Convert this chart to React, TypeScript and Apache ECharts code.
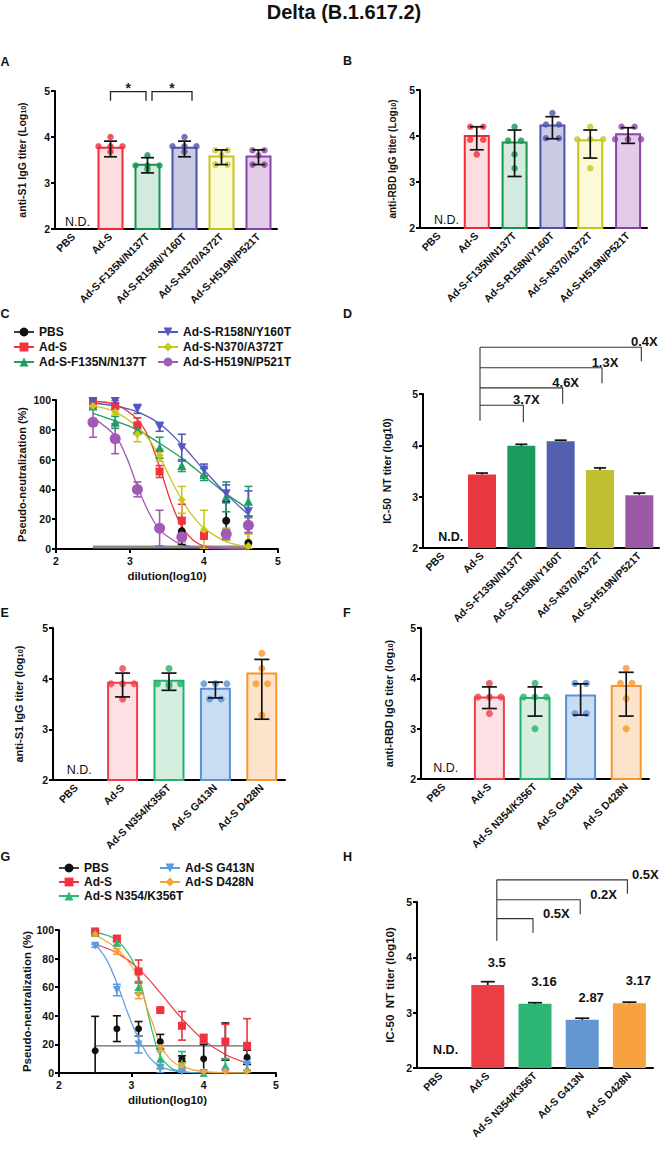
import { useEffect, useRef } from 'react';
import * as echarts from 'echarts';

const FONT = '"Liberation Sans", Arial, Helvetica, sans-serif';
const DOWN = 'path://M0,0L10,0L5,9Z';

// ================= DATA =================
const catsAB = ['PBS', 'Ad-S', 'Ad-S-F135N/N137T', 'Ad-S-R158N/Y160T', 'Ad-S-N370/A372T', 'Ad-S-H519N/P521T'];
const catsEFH = ['PBS', 'Ad-S', 'Ad-S N354/K356T', 'Ad-S G413N', 'Ad-S D428N'];

// Panel A: anti-S1 IgG
const meanA = [null, 3.79, 3.42, 3.79, 3.6, 3.6];
const lowA = [null, 3.57, 3.22, 3.57, 3.4, 3.4];
const highA = [null, 3.91, 3.55, 3.91, 3.72, 3.72];
const dotsA = [[], [4.0, 3.8, 3.8, 3.8, 3.68], [3.6, 3.38, 3.38, 3.38, 3.3], [4.0, 3.8, 3.8, 3.8, 3.68], [3.71, 3.71, 3.6, 3.4, 3.4], [3.71, 3.71, 3.6, 3.4, 3.4]];
const sigPairsA = [[1, 2], [2, 3]];
const sigLabelsA = ['*', '*'];
const sigLevelA = 4.985;
const sigLegA = 4.79;

// Panel B: anti-RBD IgG
const meanB = [null, 4.02, 3.88, 4.25, 3.93, 4.06];
const lowB = [null, 3.7, 3.12, 3.94, 3.52, 3.84];
const highB = [null, 4.2, 4.13, 4.42, 4.13, 4.18];
const dotsB = [[], [4.2, 4.2, 3.92, 3.92, 3.6], [4.2, 3.9, 3.9, 3.6, 3.3], [4.5, 4.25, 4.25, 3.95, 3.95], [4.2, 3.93, 3.93, 3.93, 3.3], [4.2, 4.2, 3.93, 3.93, 3.93]];

// Panel C: pseudo-neutralization curves
const dilX = [2.5, 2.8, 3.1, 3.4, 3.7, 4.0, 4.3, 4.6];
const namesC = ['PBS', 'Ad-S', 'Ad-S-F135N/N137T', 'Ad-S-R158N/Y160T', 'Ad-S-N370/A372T', 'Ad-S-H519N/P521T'];
const pbsC = [null, null, null, null, 12, 9, 19, 4];
const adsC = [99, 96, 83, 52, 19, 9, null, null];
const f135C = [96, 85, 80, 68, 56, 50, 35, 32];
const r158C = [99, 99, 94, 82, 68, 53, 37, 25];
const n370C = [96, 92, 77, 63, 33, 13, 10, 2];
const h519C = [85, 74, 40, 14, 8, null, 10, 16];
const pbsCsd = [0, 0, 0, 0, 9, 2, 13, 18];
const adsCsd = [1, 2, 5, 4, 11, 2, 0, 0];
const f135Csd = [2, 4, 3, 7, 4, 4, 10, 10];
const r158Csd = [1, 1, 3, 3, 9, 4, 6, 14];
const n370Csd = [2, 2, 5, 4, 9, 13, 4, 8];
const h519Csd = [10, 10, 5, 12, 3, 0, 3, 5];
const fitPbsC = [[2.5, 1.3], [4.6, 1.3]];
const fitAdsC = [[2.5, 99], [2.8, 97], [3.1, 87], [3.25, 75], [3.4, 55], [3.55, 32], [3.7, 15], [3.85, 6], [4.0, 2], [4.3, 0.3], [4.6, 0]];
const fitF135C = [[2.5, 91], [2.8, 86], [3.1, 80], [3.4, 71], [3.7, 61], [4.0, 49], [4.3, 37], [4.6, 27]];
const fitR158C = [[2.5, 98], [2.8, 96], [3.1, 92], [3.4, 84], [3.7, 70], [4.0, 53], [4.3, 37], [4.6, 23]];
const fitN370C = [[2.5, 96], [2.8, 92], [3.1, 82], [3.25, 74], [3.4, 62], [3.55, 47], [3.7, 33], [3.85, 22], [4.0, 14], [4.3, 5], [4.6, 1.5]];
const fitH519C = [[2.5, 88], [2.8, 76], [2.95, 62], [3.1, 42], [3.25, 25], [3.4, 13], [3.55, 7], [3.7, 3], [4.0, 0.5], [4.6, 0]];

// Panel D: IC-50 NT titer
const meanD = [null, 3.43, 3.99, 4.08, 3.52, 3.03];
const highD = [null, 3.46, 4.02, 4.1, 3.56, 3.07];
const foldTargetsD = [2, 3, 4, 5];
const foldLabelsD = ['3.7X', '4.6X', '1.3X', '0.4X'];
const foldLevelsD = [4.78, 5.12, 5.51, 5.91];
const foldDropsD = [4.45, 4.81, 5.21, 5.64];
const stemD = [4.48, 5.91];

// Panel E: anti-S1 IgG
const meanE = [null, 3.94, 3.98, 3.82, 4.12];
const lowE = [null, 3.64, 3.77, 3.62, 3.2];
const highE = [null, 4.11, 4.11, 3.93, 4.38];
const dotsE = [[], [4.2, 3.9, 3.9, 3.9, 3.6], [4.2, 3.9, 3.9, 3.9, 3.85], [3.9, 3.9, 3.9, 3.6, 3.6], [4.5, 4.2, 3.9, 3.9, 3.28]];

// Panel F: anti-RBD IgG
const meanF = [null, 3.64, 3.63, 3.68, 3.87];
const lowF = [null, 3.4, 3.25, 3.27, 3.25];
const highF = [null, 3.83, 3.83, 3.89, 4.12];
const dotsF = [[], [3.9, 3.63, 3.63, 3.63, 3.3], [3.9, 3.63, 3.63, 3.63, 3.0], [3.9, 3.9, 3.3, 3.3], [4.2, 3.9, 3.9, 3.6, 3.0]];

// Panel G: pseudo-neutralization curves
const namesG = ['PBS', 'Ad-S', 'Ad-S N354/K356T', 'Ad-S G413N', 'Ad-S D428N'];
const pbsG = [15.6, 31, 31, 22, 10, 10, 22, 11];
const adsG = [99, 94, 71, 44, 33, 24, 22, 19];
const n354G = [98, 91, 60, 10, 7, 0, 5, 3];
const g413G = [89, 58, 20, 3, 1, 0, 1, 6];
const d428G = [97, 85, 55, 18, 5, 1, 1, 1];
const pbsGsd = [24, 9, 5, 5, 2, 10, 13, 5];
const adsGsd = [1, 2, 8, 1, 10, 3, 12, 19];
const n354Gsd = [1, 2, 4, 7, 8, 0, 5, 4];
const g413Gsd = [1, 4, 6, 3, 1, 0, 1, 4];
const d428Gsd = [1, 2, 3, 3, 2, 1, 1, 1];
const fitPbsG = [[2.5, 19], [4.6, 19]];
const fitAdsG = [[2.5, 90], [2.8, 84], [3.1, 73], [3.4, 56], [3.7, 38], [4.0, 23], [4.3, 13], [4.6, 7]];
const fitN354G = [[2.5, 98.5], [2.8, 93], [3.0, 80], [3.1, 68], [3.2, 48], [3.3, 27], [3.4, 12], [3.55, 3.5], [3.7, 1], [4.0, 0], [4.6, 0]];
const fitG413G = [[2.5, 90], [2.65, 80], [2.8, 63], [2.95, 42], [3.1, 24], [3.25, 11], [3.4, 4.5], [3.55, 2], [3.7, 0.7], [4.0, 0], [4.6, 0]];
const fitD428G = [[2.5, 96.5], [2.8, 87], [3.0, 75], [3.1, 65], [3.2, 48], [3.3, 34], [3.4, 20], [3.55, 9], [3.7, 4.5], [4.0, 1], [4.6, 0]];

// Panel H: IC-50 NT titer
const meanH = [null, 3.5, 3.16, 2.87, 3.17];
const highH = [null, 3.56, 3.18, 2.9, 3.19];
const foldTargetsH = [2, 3, 4];
const foldLabelsH = ['0.5X', '0.2X', '0.5X'];
const foldLevelsH = [4.7, 5.04, 5.4];
const foldDropsH = [4.44, 4.78, 5.15];
const stemH = [4.3, 5.4];

// ================= STYLES =================
const colAB = ['#000', '#EE2C38', '#17924F', '#4B53A8', '#C6C31F', '#8A44A5'];
const fillAB = ['#fff', '#FCDDE0', '#D2EBDF', '#CACAE5', '#FBFAD6', '#E3CCE7'];
const colD = ['#000', '#E8383F', '#189B5C', '#5360AD', '#C0BF2F', '#9A59A6'];
const colEF = ['#000', '#EF3E4A', '#24B16C', '#5A8FD3', '#F7962C'];
const fillEF = ['#fff', '#FCE0E3', '#D5EEDF', '#C8DCF3', '#FDE3C9'];
const colH = ['#000', '#EC3E45', '#2CB573', '#6397D0', '#F7A13F'];
const colC = ['#111', '#F0333D', '#1E9E62', '#5357C0', '#C9C71C', '#A05AB5'];
const colG = ['#111', '#F0333D', '#2DB872', '#5A9BE0', '#F7A033'];

const axisLine = { lineStyle: { color: '#000', width: 2 } };
const tickStyle = { lineStyle: { color: '#000', width: 2 }, length: 4 };

function catX(g: number, cats: string[]) {
  return {
    type: 'category', gridIndex: g, data: cats, axisLine,
    axisTick: { ...tickStyle, alignWithLabel: true },
    axisLabel: { rotate: 45, fontSize: 10.5, fontWeight: 'bold', color: '#111', fontFamily: FONT, margin: 6, interval: 0 },
    splitLine: { show: false },
  };
}
function valX(g: number) {
  return {
    type: 'value', gridIndex: g, min: 2, max: 5, interval: 1, axisLine, axisTick: tickStyle,
    axisLabel: { fontSize: 10.5, fontWeight: 'bold', color: '#111', fontFamily: FONT, margin: 6 },
    splitLine: { show: false },
    name: 'dilution(log10)', nameLocation: 'middle', nameGap: 21,
    nameTextStyle: { fontSize: 11.5, fontWeight: 'bold', color: '#111', fontFamily: FONT },
  };
}
function valY(g: number, min: number, max: number, interval: number, name: string, nameGap: number, nameSize: number) {
  return {
    type: 'value', gridIndex: g, min, max, interval, axisLine: { show: true, ...axisLine },
    axisTick: { show: true, ...tickStyle },
    axisLabel: { fontSize: 10.5, fontWeight: 'bold', color: '#111', fontFamily: FONT, margin: 5 },
    splitLine: { show: false },
    name, nameLocation: 'middle', nameGap,
    nameTextStyle: {
      fontSize: nameSize, fontWeight: 'bold', color: '#111', fontFamily: FONT,
      rich: { sub: { fontSize: nameSize * 0.68, fontWeight: 'bold', color: '#111', fontFamily: FONT, verticalAlign: 'bottom', padding: [3, 0, 0, 0] } },
    },
  };
}

function jitterOffsets(vals: number[], step: number): number[] {
  const res = new Array(vals.length).fill(0);
  const groups: Record<string, number[]> = {};
  vals.forEach((v, i) => {
    const k = v.toFixed(2);
    (groups[k] = groups[k] || []).push(i);
  });
  Object.values(groups).forEach((idx) => idx.forEach((i, k) => { res[i] = (k - (idx.length - 1) / 2) * step; }));
  return res;
}

function barSeries(g: number, means: any[], strokes: string[], fills: string[] | null, barWidth: number, label?: any) {
  return {
    type: 'bar', xAxisIndex: g, yAxisIndex: g, barWidth, silent: true, z: 2,
    data: means.map((m, i) => (m == null ? '-' : {
      value: m,
      itemStyle: { color: fills ? fills[i] : strokes[i], borderColor: strokes[i], borderWidth: fills ? 2 : 0 },
    })),
    label: label || { show: false },
  };
}

function dotSeries(g: number, dots: number[][], colors: string[], size: number, step: number) {
  const data: any[] = [];
  dots.forEach((vals, i) => {
    const offs = jitterOffsets(vals, step);
    vals.forEach((v, k) => data.push({ value: [i, v], symbolOffset: [offs[k], 0], itemStyle: { color: colors[i] } }));
  });
  return { type: 'scatter', xAxisIndex: g, yAxisIndex: g, symbol: 'circle', symbolSize: size, data, z: 3, silent: true };
}

function errRender(capHalf: number, color: string, width: number, bottomCap: boolean, dx: number) {
  return (params: any, api: any) => {
    const a = api.coord([api.value(0), api.value(1)]);
    const b = api.coord([api.value(0), api.value(2)]);
    const x = a[0] + dx;
    const st = { stroke: color, lineWidth: width };
    const ch: any[] = [
      { type: 'line', shape: { x1: x, y1: a[1], x2: x, y2: b[1] }, style: st },
    ];
    if (capHalf > 0) ch.push({ type: 'line', shape: { x1: x - capHalf, y1: b[1], x2: x + capHalf, y2: b[1] }, style: st });
    if (capHalf > 0 && bottomCap) ch.push({ type: 'line', shape: { x1: x - capHalf, y1: a[1], x2: x + capHalf, y2: a[1] }, style: st });
    return { type: 'group', children: ch };
  };
}

function errSeries(g: number, lows: any[], highs: any[], capHalf: number, opts: any = {}) {
  const data: any[] = [];
  highs.forEach((h, i) => { if (h != null) data.push([i, lows[i] == null ? h : lows[i], h]); });
  return {
    type: 'custom', xAxisIndex: g, yAxisIndex: g, z: 4, silent: true, clip: false,
    encode: { x: 0, y: [1, 2] },
    renderItem: errRender(capHalf, opts.color || '#111', opts.width || 1.7, opts.bottomCap !== false, opts.dx || 0),
    data,
  };
}

function ndSeries(g: number, dx: number, dy: number, bold: boolean) {
  return {
    type: 'custom', xAxisIndex: g, yAxisIndex: g, z: 5, silent: true, clip: false,
    data: [[0, 2]],
    renderItem: (params: any, api: any) => {
      const p = api.coord([api.value(0), api.value(1)]);
      return {
        type: 'text', x: p[0] + dx, y: p[1] + dy,
        style: { text: 'N.D.', fill: '#111', fontSize: 12.5, fontWeight: bold ? 'bold' : 'normal', fontFamily: FONT, align: 'center', verticalAlign: 'bottom' },
      };
    },
  };
}

function sigSeries(g: number, pairs: number[][], labels: string[], level: number, leg: number, dxs: number[][]) {
  return {
    type: 'custom', xAxisIndex: g, yAxisIndex: g, z: 5, silent: true, clip: false,
    data: pairs.map((p) => [p[0], p[1], level, leg]),
    renderItem: (params: any, api: any) => {
      const i = params.dataIndex;
      const f = api.value(0), t = api.value(1), lv = api.value(2), lg = api.value(3);
      const a = api.coord([f, lg]); const b = api.coord([f, lv]);
      const c = api.coord([t, lv]); const d = api.coord([t, lg]);
      const x0 = a[0] + dxs[i][0], x1 = c[0] + dxs[i][1];
      return {
        type: 'group',
        children: [
          { type: 'polyline', shape: { points: [[x0, a[1]], [x0, b[1]], [x1, c[1]], [x1, d[1]]] }, style: { stroke: '#222', fill: 'none', lineWidth: 1.3 } },
          { type: 'text', x: (x0 + x1) / 2, y: b[1] - 4, style: { text: labels[i], fill: '#222', fontSize: 14, fontWeight: 'bold', fontFamily: FONT, align: 'center', verticalAlign: 'middle' } },
        ],
      };
    },
  };
}

function foldSeries(g: number, origin: number, targets: number[], levels: number[], drops: number[], labels: string[], originDx: number, endDx: number, mode: 'center' | 'right') {
  return {
    type: 'custom', xAxisIndex: g, yAxisIndex: g, z: 5, silent: true, clip: false,
    data: targets.map((t, i) => [t, levels[i], drops[i]]),
    renderItem: (params: any, api: any) => {
      const i = params.dataIndex;
      const t = api.value(0), lv = api.value(1), dr = api.value(2);
      const p0 = api.coord([origin, lv]);
      const p1 = api.coord([t, lv]);
      const p2 = api.coord([t, dr]);
      const x0 = p0[0] + originDx, x1 = p1[0] + endDx;
      let tx = x1 + 3; let align = 'center';
      if (mode === 'right') { tx = Math.min(x1 + 10, 632); align = 'left'; }
      return {
        type: 'group',
        children: [
          { type: 'polyline', shape: { points: [[x0, p0[1]], [x1, p1[1]], [x1, p2[1]]] }, style: { stroke: '#333', fill: 'none', lineWidth: 1.1 } },
          { type: 'text', x: tx, y: p1[1] + 1, style: { text: labels[i], fill: '#111', fontSize: 13, fontWeight: 'bold', fontFamily: FONT, align, verticalAlign: 'bottom' } },
        ],
      };
    },
  };
}

function curvePanel(g: number, names: string[], pts: any[][], sds: number[][], fits: number[][][], colors: string[], symbols: string[], sizes: number[], curveColors: string[], curveWidths: number[]) {
  const out: any[] = [];
  names.forEach((n, i) => {
    out.push({
      type: 'line', name: n, xAxisIndex: g, yAxisIndex: g, data: fits[i], smooth: 0.35, showSymbol: false,
      symbol: symbols[i], symbolSize: sizes[i], itemStyle: { color: colors[i] },
      lineStyle: { color: curveColors[i], width: curveWidths[i] }, z: 2, silent: true,
    });
  });
  names.forEach((n, i) => {
    const data: any[] = [];
    dilX.forEach((x, k) => {
      const v = pts[i][k];
      if (v != null && sds[i][k] > 0) data.push([x, Math.max(0, v - sds[i][k]), v + sds[i][k]]);
    });
    out.push({
      type: 'custom', name: 'err-' + g + '-' + i, xAxisIndex: g, yAxisIndex: g, z: 3, silent: true, clip: true,
      encode: { x: 0, y: [1, 2] },
      renderItem: errRender(4, colors[i], 1.6, true, 0),
      data,
    });
  });
  names.forEach((n, i) => {
    const data: any[] = [];
    dilX.forEach((x, k) => { const v = pts[i][k]; if (v != null) data.push([x, v]); });
    out.push({
      type: 'scatter', name: 'pts-' + g + '-' + i, xAxisIndex: g, yAxisIndex: g, z: 4, silent: true,
      symbol: symbols[i], symbolSize: sizes[i], itemStyle: { color: colors[i], opacity: 1 }, data,
    });
  });
  return out;
}

const legendText = { fontSize: 12, fontWeight: 'bold', color: '#111', fontFamily: FONT };
function legendBox(left: number, top: number, data: any[]) {
  return {
    left, top, orient: 'vertical', itemGap: 3, itemWidth: 20, itemHeight: 11, selectedMode: false,
    textStyle: legendText, data, padding: 0,
  };
}

function buildOption() {
  const grids = [
    { left: 55, top: 91, width: 222, height: 138 },   // A
    { left: 420, top: 90, width: 227, height: 138 },  // B
    { left: 56, top: 400, width: 222, height: 149 },  // C
    { left: 423, top: 394, width: 236, height: 154 }, // D
    { left: 53, top: 628, width: 232, height: 152 },  // E
    { left: 421, top: 628, width: 228, height: 151 }, // F
    { left: 59, top: 930, width: 217, height: 143 },  // G
    { left: 417, top: 902, width: 236, height: 166 }, // H
  ];
  const xAxis = [
    catX(0, catsAB), catX(1, catsAB), valX(2), catX(3, catsAB),
    catX(4, catsEFH), catX(5, catsEFH), valX(6), catX(7, catsEFH),
  ];
  const yAxis = [
    valY(0, 2, 5, 1, 'anti-S1 IgG titer (Log{sub|10})', 28, 10.5),
    valY(1, 2, 5, 1, 'anti-RBD IgG titer (Log{sub|10})', 23, 10),
    valY(2, 0, 100, 20, 'Pseudo-neutralization (%)', 29, 11),
    valY(3, 2, 5, 1, 'IC-50  NT titer (log10)', 31, 10.5),
    valY(4, 2, 5, 1, 'anti-S1 IgG titer (log{sub|10})', 29, 11),
    valY(5, 2, 5, 1, 'anti-RBD IgG titer (log{sub|10})', 27, 11),
    valY(6, 0, 100, 20, 'Pseudo-neutralization (%)', 25, 11.5),
    valY(7, 2, 5, 1, 'IC-50  NT titer (log10)', 21, 11.5),
  ];

  const series: any[] = [
    // C and G curves first so legends resolve to them
    ...curvePanel(2, namesC, [pbsC, adsC, f135C, r158C, n370C, h519C], [pbsCsd, adsCsd, f135Csd, r158Csd, n370Csd, h519Csd],
      [fitPbsC, fitAdsC, fitF135C, fitR158C, fitN370C, fitH519C], colC,
      ['circle', 'rect', 'triangle', DOWN, 'diamond', 'circle'], [8, 8, 9, 9, 8, 11],
      ['#8a8a8a', colC[1], colC[2], colC[3], colC[4], colC[5]], [3, 1.3, 1.3, 1.3, 1.3, 1.3]),
    ...curvePanel(6, namesG, [pbsG, adsG, n354G, g413G, d428G], [pbsGsd, adsGsd, n354Gsd, g413Gsd, d428Gsd],
      [fitPbsG, fitAdsG, fitN354G, fitG413G, fitD428G], colG,
      ['circle', 'rect', 'triangle', DOWN, 'diamond'], [7, 8, 8, 8, 7],
      ['#666', colG[1], colG[2], colG[3], colG[4]], [1.3, 1.2, 1.2, 1.2, 1.2]),

    // A
    barSeries(0, meanA, colAB, fillAB, 26),
    dotSeries(0, dotsA, colAB, 6.5, 12),
    errSeries(0, lowA, highA, 6.5),
    sigSeries(0, sigPairsA, sigLabelsA, sigLevelA, sigLegA, [[0, -1.5], [4.5, 7.5]]),
    ndSeries(0, 4, -0.5, false),

    // B
    barSeries(1, meanB, colAB, fillAB, 26),
    dotSeries(1, dotsB, colAB, 6.5, 13),
    errSeries(1, lowB, highB, 7),
    ndSeries(1, 7.5, -1.5, false),

    // D
    barSeries(3, meanD, colD, null, 28),
    errSeries(3, meanD, highD, 6, { bottomCap: false }),
    errSeries(3, [null, stemD[0]], [null, stemD[1]], 0, { color: '#333', width: 1.1, dx: -2 }),
    foldSeries(3, 1, foldTargetsD, foldLevelsD, foldDropsD, foldLabelsD, -2, 2, 'center'),
    ndSeries(3, 8, -4.5, true),

    // E
    barSeries(4, meanE, colEF, fillEF, 31),
    dotSeries(4, dotsE, colEF, 7, 11.5),
    errSeries(4, lowE, highE, 7.5),
    ndSeries(4, 3, -4, false),

    // F
    barSeries(5, meanF, colEF, fillEF, 31),
    dotSeries(5, dotsF, colEF, 7, 11.5),
    errSeries(5, lowF, highF, 7.5),
    ndSeries(5, 2, -4.5, false),

    // H
    barSeries(7, meanH, colH, null, 33, {
      show: true, position: 'top', distance: 16, offset: [9, 0],
      formatter: (p: any) => String(p.value), fontSize: 13, fontWeight: 'bold', color: '#111', fontFamily: FONT,
    }),
    errSeries(7, meanH, highH, 7, { bottomCap: false }),
    errSeries(7, [null, stemH[0]], [null, stemH[1]], 0, { color: '#333', width: 1.1, dx: 9 }),
    foldSeries(7, 1, foldTargetsH, foldLevelsH, foldDropsH, foldLabelsH, 9, -2, 'right'),
    ndSeries(7, 5, -11.5, true),
  ];

  const letter = (t: string, x: number, y: number) => ({
    type: 'text', x, y, silent: true,
    style: { text: t, fill: '#111', fontSize: 12.5, fontWeight: 'bold', fontFamily: FONT, align: 'left', verticalAlign: 'middle' },
  });

  return {
    animation: false,
    backgroundColor: '#ffffff',
    textStyle: { fontFamily: FONT },
    grid: grids,
    xAxis,
    yAxis,
    legend: [
      legendBox(13, 326, [{ name: 'PBS', lineStyle: { color: '#000', width: 1.5 } }, 'Ad-S', 'Ad-S-F135N/N137T']),
      legendBox(157, 326, ['Ad-S-R158N/Y160T', 'Ad-S-N370/A372T', 'Ad-S-H519N/P521T']),
      { ...legendBox(58, 862, [{ name: 'PBS', lineStyle: { color: '#000', width: 1.5 } }, 'Ad-S', 'Ad-S N354/K356T']), itemGap: 2 },
      { ...legendBox(159, 862, ['Ad-S G413N', 'Ad-S D428N']), itemGap: 2 },
    ],
    graphic: [
      {
        type: 'text', x: 344, y: 12, silent: true,
        style: { text: 'Delta (B.1.617.2)', fill: '#111', fontSize: 20, fontWeight: 'bold', fontFamily: FONT, align: 'center', verticalAlign: 'middle' },
      },
      letter('A', 0.5, 61.5), letter('B', 343, 61),
      letter('C', 0.5, 313.5), letter('D', 343, 313.5),
      letter('E', 0.5, 613), letter('F', 343, 613),
      letter('G', 0.5, 857), letter('H', 343, 857),
    ],
    series,
  };
}

export default function App() {
  const ref = useRef<HTMLDivElement>(null);
  useEffect(() => {
    document.body.style.margin = '0';
    if (!ref.current) return;
    const chart = echarts.init(ref.current, null, { renderer: 'svg' });
    chart.setOption(buildOption() as any);
    return () => chart.dispose();
  }, []);
  return <div ref={ref} style={{ width: 662, height: 1154, background: '#fff' }} />;
}
